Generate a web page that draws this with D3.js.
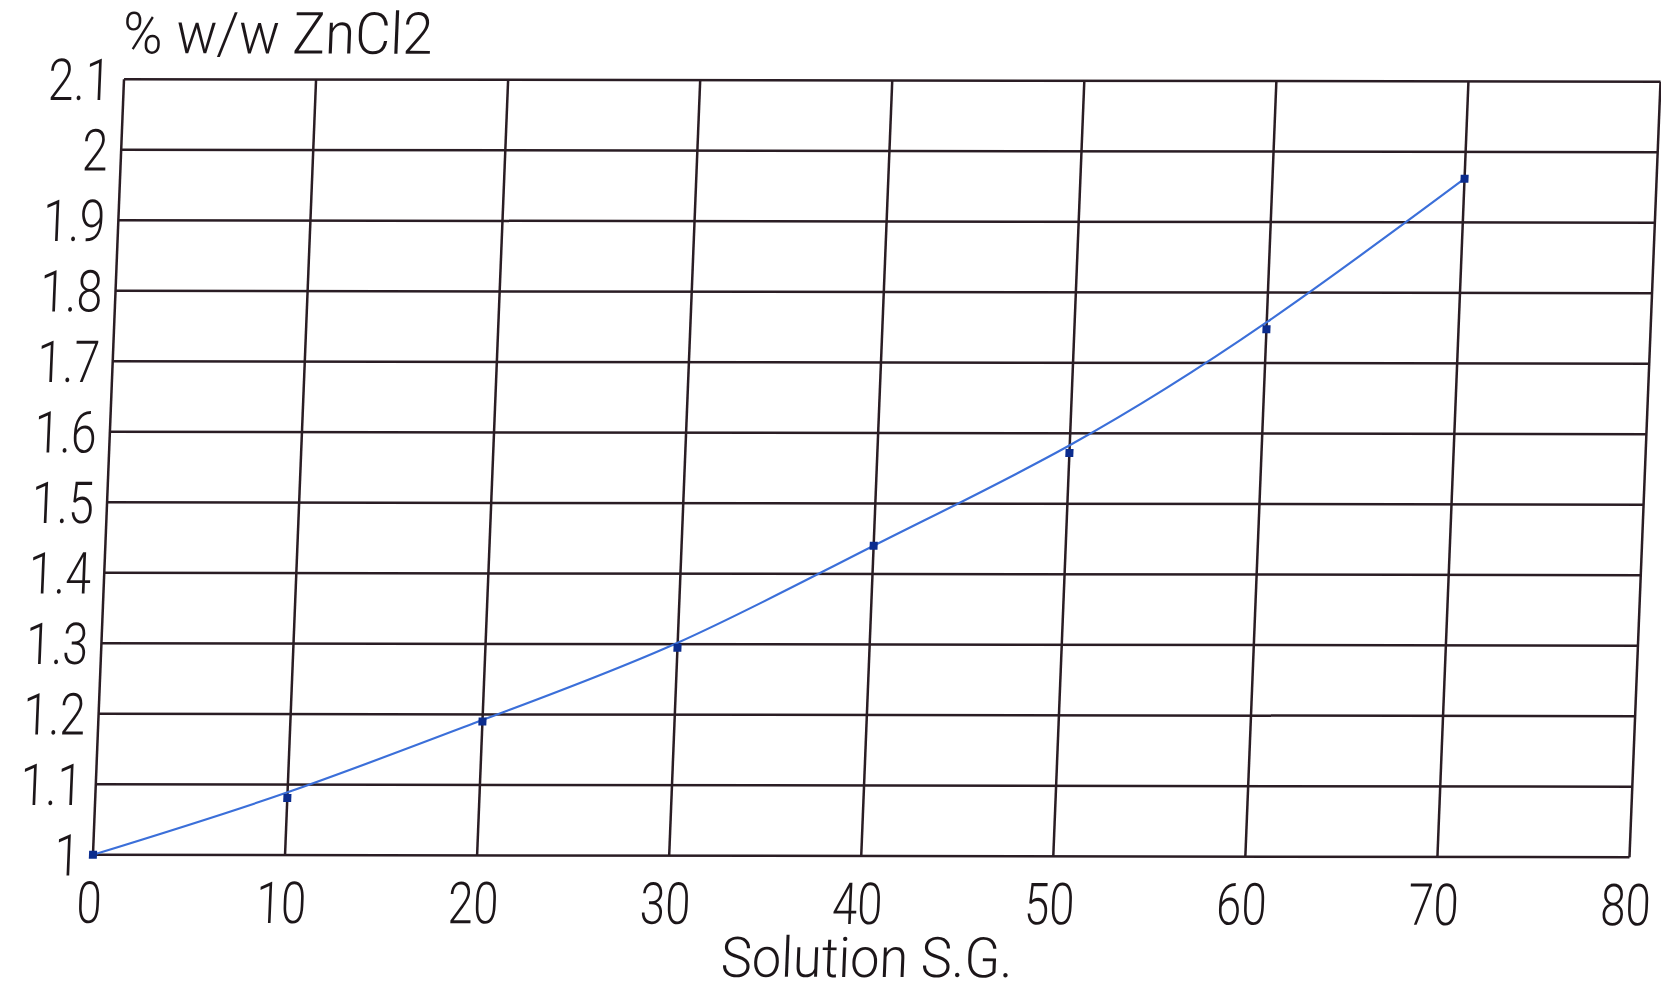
<!DOCTYPE html>
<html>
<head>
<meta charset="utf-8">
<script src="https://cdn.jsdelivr.net/npm/d3@7"></script>
<style>
  html, body { margin: 0; padding: 0; background: #fff; }
  svg { display: block; }
  .lbl { font-family: Roboto, "Liberation Sans", sans-serif; font-weight: 300; fill: #1c1619; }
</style>
</head>
<body>
<div id="chart"></div>
<script>
const CONSTANTS = {
    WIDTH: 1661,
    HEIGHT: 993,
    PLOT_W: 1536.5,
    PLOT_H: 775.5,
    // the original is a slightly skewed scan, so the whole chart sits in an affine frame
    FRAME: "matrix(1, 0.0016, -0.040, 1, 124, 79.25)",
}

// x values of the measured points
const solutionSG = [0, 10, 20, 30, 40, 50, 60, 70];
// measured % w/w ZnCl2 (square markers)
const measured = [1.0, 1.081, 1.19, 1.295, 1.44, 1.572, 1.748, 1.962];
// the smoothed curve drawn through them, read at the same x values
const fitted = [1.0, 1.089, 1.192, 1.302, 1.44, 1.583, 1.758, 1.962];

const xTicks = [0, 10, 20, 30, 40, 50, 60, 70, 80];
const yTicks = [1, 1.1, 1.2, 1.3, 1.4, 1.5, 1.6, 1.7, 1.8, 1.9, 2, 2.1];
const yTickLabels = ["1", "1.1", "1.2", "1.3", "1.4", "1.5", "1.6", "1.7", "1.8", "1.9", "2", "2.1"];

const gridColor = "#2a1d24";
const curveColor = "#3b6fd9";
const markerColor = "#0b2c8e";

const svg = d3.select("#chart")
    .append("svg")
    .attr("width", CONSTANTS.WIDTH)
    .attr("height", CONSTANTS.HEIGHT);

const g = svg.append("g").attr("transform", CONSTANTS.FRAME);

const x = d3.scaleLinear().domain([0, 80]).range([0, CONSTANTS.PLOT_W]);
const y = d3.scaleLinear().domain([1, 2.1]).range([CONSTANTS.PLOT_H, 0]);

// grid
g.append("g")
    .selectAll("line")
    .data(xTicks)
    .join("line")
    .attr("x1", d => x(d)).attr("x2", d => x(d))
    .attr("y1", 0).attr("y2", CONSTANTS.PLOT_H)
    .attr("stroke", gridColor)
    .attr("stroke-width", 2.5);

g.append("g")
    .selectAll("line")
    .data(yTicks)
    .join("line")
    .attr("x1", 0).attr("x2", CONSTANTS.PLOT_W)
    .attr("y1", d => y(d)).attr("y2", d => y(d))
    .attr("stroke", gridColor)
    .attr("stroke-width", 2.5);

// tick labels, condensed to look like the plotter lettering
g.append("g")
    .selectAll("text")
    .data(yTicks)
    .join("text")
    .attr("class", "lbl")
    .attr("font-size", 58)
    .attr("text-anchor", "end")
    .attr("dy", "0.36em")
    .attr("transform", d => `translate(${-13},${y(d)}) scale(0.8,1)`)
    .text((d, i) => yTickLabels[i]);

g.append("g")
    .selectAll("text")
    .data(xTicks)
    .join("text")
    .attr("class", "lbl")
    .attr("font-size", 58)
    .attr("text-anchor", "middle")
    .attr("transform", d => `translate(${x(d) - 2},${CONSTANTS.PLOT_H + 68}) scale(0.78,1)`)
    .text(d => d);

// axis titles
g.append("text")
    .attr("class", "lbl")
    .attr("font-size", 58)
    .attr("x", -3)
    .attr("y", -26)
    .attr("textLength", 310)
    .attr("lengthAdjust", "spacingAndGlyphs")
    .text("% w/w ZnCl2");

g.append("text")
    .attr("class", "lbl")
    .attr("font-size", 56)
    .attr("x", 632)
    .attr("y", CONSTANTS.PLOT_H + 121)
    .attr("textLength", 292)
    .attr("lengthAdjust", "spacingAndGlyphs")
    .text("Solution S.G.");

// smoothed curve
const line = d3.line()
    .x((d, i) => x(solutionSG[i]))
    .y(d => y(d))
    .curve(d3.curveNatural);

g.append("path")
    .datum(fitted)
    .attr("fill", "none")
    .attr("stroke", curveColor)
    .attr("stroke-width", 2.2)
    .attr("d", line);

// measured points
g.append("g")
    .selectAll("rect")
    .data(measured)
    .join("rect")
    .attr("x", (d, i) => x(solutionSG[i]) - 4)
    .attr("y", d => y(d) - 4)
    .attr("width", 8)
    .attr("height", 8)
    .attr("fill", markerColor);
</script>
</body>
</html>
